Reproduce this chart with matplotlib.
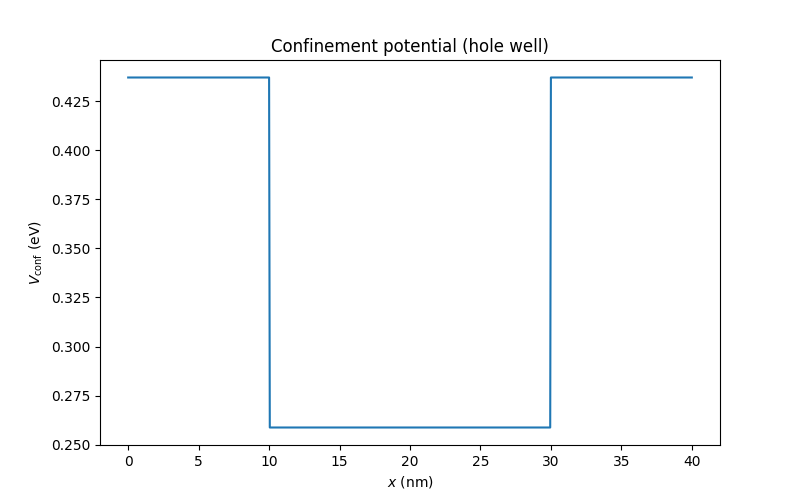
import matplotlib
matplotlib.use("Agg")
import matplotlib.pyplot as plt

x_nm = [0, 10, 10.05, 29.95, 30, 40]
v_conf = [0.4372, 0.4372, 0.2587, 0.2587, 0.4372, 0.4372]

fig, ax = plt.subplots(figsize=(8, 5), dpi=100)
ax.plot(x_nm, v_conf)
ax.set_title("Confinement potential (hole well)")
ax.set_xlabel("$x$ (nm)")
ax.set_ylabel(r"$V_{\mathrm{conf}}$ (eV)")
fig.savefig("out.png")
